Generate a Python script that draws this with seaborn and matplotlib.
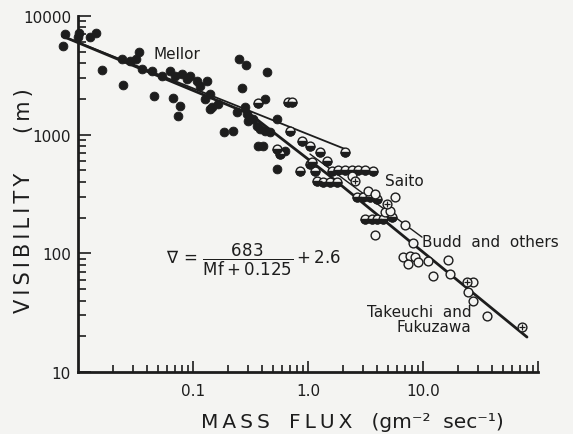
import matplotlib
matplotlib.use("Agg")
import matplotlib.pyplot as plt
from matplotlib.markers import MarkerStyle
import pandas as pd
import seaborn as sns

# ---------------- data ----------------
mellor_flux = [0.0077, 0.0074, 0.0102, 0.0100, 0.0127, 0.0144, 0.0162, 0.0241, 0.0246, 0.0283,
               0.0319, 0.0339, 0.036, 0.044, 0.0458, 0.0537, 0.0631, 0.067, 0.0697, 0.0771,
               0.0741, 0.0802, 0.0887, 0.0942, 0.108, 0.115, 0.132, 0.127, 0.141, 0.141,
               0.165, 0.146, 0.186, 0.223, 0.251, 0.289, 0.267, 0.241, 0.283, 0.295,
               0.301, 0.333, 0.36, 0.367, 0.406, 0.44, 0.423, 0.423, 0.467, 0.537,
               0.537, 0.631, 0.383]
mellor_vis = [7040, 5570, 7180, 6640, 6640, 7180, 3500, 4330, 2620, 4170,
              4330, 4960, 3570, 3430, 2110, 3120, 3430, 2030, 3120, 1740,
              1430, 3240, 2940, 3120, 2830, 2570, 2830, 1990, 2200, 1640,
              1810, 1710, 1050, 1070, 4330, 3860, 2470, 1550, 1710, 1490,
              1300, 1350, 1180, 802, 802, 3370, 1990, 1070, 1050, 1350,
              513, 728, 1110]

saito_flux = [0.367, 0.67, 0.726, 0.697, 0.537, 0.571, 0.887, 1.04, 1.27, 1.46,
              2.10, 0.852, 1.04, 1.15, 1.08, 1.62, 1.82, 2.10, 2.41, 2.72,
              3.13, 3.67, 1.20, 1.35, 1.55, 1.79, 2.67, 3.01, 3.46, 3.98,
              3.13, 3.60, 3.98, 4.49, 5.37]
saito_vis = [1850, 1880, 1880, 1070, 757, 687, 883, 802, 713, 600,
             713, 493, 565, 493, 588, 493, 503, 503, 503, 503,
             503, 493, 406, 399, 399, 399, 298, 298, 298, 287,
             195, 195, 195, 195, 202]

budd_flux = [3.32, 3.83, 5.71, 4.67, 5.17, 3.83, 6.97, 8.19, 6.70, 7.71, 7.41,
             8.52, 9.05, 11.0, 16.5, 12.2, 17.2, 27.2, 24.6, 27.2, 36.0, 2.41]
budd_vis = [335, 316, 298, 223, 227, 143, 173, 122, 93, 95, 81.3,
            93, 84.5, 86, 87.8, 64.4, 67, 57.3, 47.2, 39.6, 29.6, 448]

tf_flux = [2.56, 4.86, 24.1, 72.6]
tf_vis = [406, 260, 57.3, 23.9]

mellor_fit_flux = [0.0073, 2.10]
mellor_fit_vis = [6770, 757]
main_fit_flux = [0.0073, 0.313, 1.55, 8.19, 80.2]
main_fit_vis = [6770, 1490, 448, 120, 19.7]
budd_fit_flux = [1.04, 9.8]
budd_fit_vis = [687, 137]

x_tick_values = [0.1, 1.0, 10.0, 100.0]
x_tick_labels = ["0.1", "1.0", "10.0", ""]
y_tick_values = [10, 100, 1000, 10000]
y_tick_labels = ["10", "100", "1000", "10000"]

# ---------------- styling ----------------
INK = "#1d1d1d"
BG = "#f4f4f2"
sns.set_style("ticks")
plt.rcParams["font.family"] = ["DejaVu Sans"]
plt.rcParams["mathtext.fontset"] = "dejavusans"

W, H = 573, 435
fig = plt.figure(figsize=(W / 100, H / 100), dpi=100, facecolor=BG)
ax = fig.add_axes([78 / W, (H - 373) / H, (538 - 78) / W, (373 - 17) / H])
ax.set_facecolor(BG)
ax.set_xscale("log")
ax.set_yscale("log")

mellor = pd.DataFrame({"flux": mellor_flux, "vis": mellor_vis})
saito = pd.DataFrame({"flux": saito_flux, "vis": saito_vis})
budd = pd.DataFrame({"flux": budd_flux, "vis": budd_vis})
tf = pd.DataFrame({"flux": tf_flux, "vis": tf_vis})

# fit lines
sns.lineplot(x=mellor_fit_flux, y=mellor_fit_vis, sort=False, estimator=None,
             color=INK, linewidth=1.3, ax=ax, clip_on=False, zorder=2)
sns.lineplot(x=main_fit_flux, y=main_fit_vis, sort=False, estimator=None,
             color=INK, linewidth=2.0, ax=ax, clip_on=False, zorder=2)
sns.lineplot(x=budd_fit_flux, y=budd_fit_vis, sort=False, estimator=None,
             color=INK, linewidth=1.0, ax=ax, clip_on=False, zorder=2)

S = 40
# Mellor: filled
sns.scatterplot(data=mellor, x="flux", y="vis", color=INK, edgecolor=INK, s=S,
                linewidth=0.6, ax=ax, clip_on=False, zorder=3, legend=False)
# Saito: half filled (bottom)
sns.scatterplot(data=saito, x="flux", y="vis", color=BG, edgecolor=INK, s=S,
                linewidth=1.0, ax=ax, clip_on=False, zorder=3, legend=False)
sns.scatterplot(data=saito, x="flux", y="vis", marker=MarkerStyle("o", fillstyle="bottom"),
                color=INK, edgecolor=INK, s=S, linewidth=1.0, ax=ax, clip_on=False,
                zorder=3, legend=False)
# Budd and others: open
sns.scatterplot(data=budd, x="flux", y="vis", color=BG, edgecolor=INK, s=S,
                linewidth=1.0, ax=ax, clip_on=False, zorder=3, legend=False)
# Takeuchi and Fukuzawa: circle with cross
sns.scatterplot(data=tf, x="flux", y="vis", color=BG, edgecolor=INK, s=S,
                linewidth=1.0, ax=ax, clip_on=False, zorder=3, legend=False)
sns.scatterplot(data=tf, x="flux", y="vis", marker="+", color=INK, s=22,
                linewidth=0.9, ax=ax, clip_on=False, zorder=4, legend=False)

ax.set_xlim(0.01, 100)
ax.set_ylim(10, 10000)
ax.set_xlabel("")
ax.set_ylabel("")

ax.set_xticks(x_tick_values, x_tick_labels)
ax.set_yticks(y_tick_values, y_tick_labels)
ax.xaxis.set_minor_locator(matplotlib.ticker.LogLocator(base=10, subs=range(2, 10)))
ax.yaxis.set_minor_locator(matplotlib.ticker.LogLocator(base=10, subs=range(2, 10)))
ax.xaxis.set_minor_formatter(matplotlib.ticker.NullFormatter())
ax.yaxis.set_minor_formatter(matplotlib.ticker.NullFormatter())

ax.tick_params(which="both", direction="in", color=INK, width=1.2, labelcolor=INK,
               labelsize=11)
ax.tick_params(axis="y", which="major", length=9, pad=5)
ax.tick_params(axis="y", which="minor", length=6)
ax.tick_params(axis="x", which="major", length=8, pad=8)
ax.tick_params(axis="x", which="minor", length=5)

for side in ["top", "right"]:
    ax.spines[side].set_visible(False)
for side in ["left", "bottom"]:
    ax.spines[side].set_linewidth(2.0)
    ax.spines[side].set_color(INK)

# annotations
ax.text(0.045, 4800, "Mellor", fontsize=11, color=INK, ha="left", va="center")
ax.text(4.7, 410, "Saito", fontsize=11, color=INK, ha="left", va="center")
ax.text(9.8, 127, "Budd  and  others", fontsize=11, color=INK, ha="left", va="center")
ax.text(26.5, 28, "Takeuchi  and\nFukuzawa", fontsize=11, color=INK, ha="right",
        va="center", multialignment="right", linespacing=1.05)
ax.text(0.058, 89, r"$\nabla\,=\,\dfrac{683}{\mathrm{Mf}+0.125}+2.6$", fontsize=12,
        color=INK, ha="left", va="center")

ts = "\u2009"
ylab = ts.join("VISIBILITY") + "      " + ts.join("(m)")
xlab = ts.join("MASS") + "   " + ts.join("FLUX") + "   (gm\u207b\u00b2  sec\u207b\u00b9)"
fig.text(24 / W, 1 - 201 / H, ylab, rotation=90, ha="center", va="center",
         fontsize=15, color=INK)
fig.text(352 / W, 1 - 423 / H, xlab, ha="center", va="center", fontsize=14.5, color=INK)

fig.savefig("out.png", dpi=100, facecolor=BG)
